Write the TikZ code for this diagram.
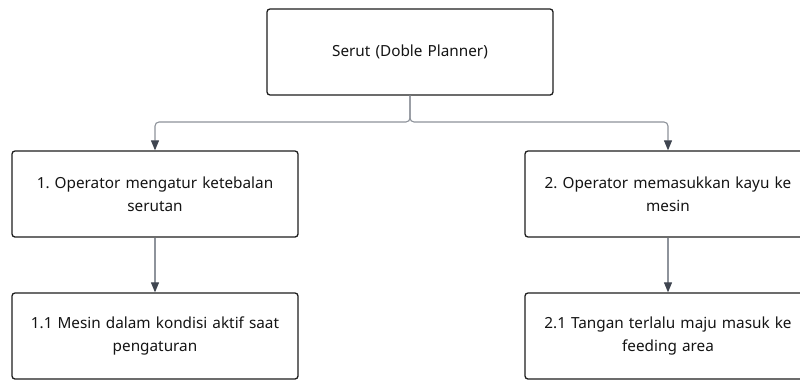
\documentclass[tikz,border=0pt]{standalone}
\usepackage{fontspec}
\setmainfont{Noto Sans}
\usetikzlibrary{arrows.meta}
\definecolor{boxline}{HTML}{1E1E1E}
\definecolor{linkgray}{HTML}{8E939B}
\definecolor{tipgray}{HTML}{3F4550}
\definecolor{txt}{HTML}{141414}
\tikzset{
  box/.style={draw=boxline, line width=1.3pt, rounded corners=3pt, fill=white,
    minimum width=286pt, minimum height=86pt, text width=276pt, align=center,
    font=\fontsize{15.3}{23}\selectfont, text=txt, inner sep=0pt},
  link/.style={draw=linkgray, line width=1.1pt, rounded corners=4pt,
    -{Triangle[width=8pt,length=10pt,fill=tipgray,color=tipgray]}}
}
\frenchspacing
\begin{document}
\begin{tikzpicture}[x=1pt,y=-1pt]
\useasboundingbox (0,0) rectangle (800,381);
\clip (0,0) rectangle (800,381);
\fill[white] (0,0) rectangle (800,381);
% root
\node[box] (root) at (410,52) {Serut (Doble Planner)};
% first level
\node[box] (b1) at (155,194) {1. Operator mengatur ketebalan\\serutan};
\node[box] (b2) at (668,194) {2. Operator memasukkan kayu ke\\mesin};
% second level
\node[box] (b11) at (155,336) {1.1 Mesin dalam kondisi aktif saat\\pengaturan};
\node[box] (b21) at (668,336) {2.1 Tangan terlalu maju masuk ke\\feeding area};
% connectors
\coordinate (j) at (410,122);
\draw[link] (root.south) -- (j) -| (b1.north);
\draw[link] (root.south) -- (j) -| (b2.north);
\draw[link] (b1.south) -- (b11.north);
\draw[link] (b2.south) -- (b21.north);
\end{tikzpicture}
\end{document}
